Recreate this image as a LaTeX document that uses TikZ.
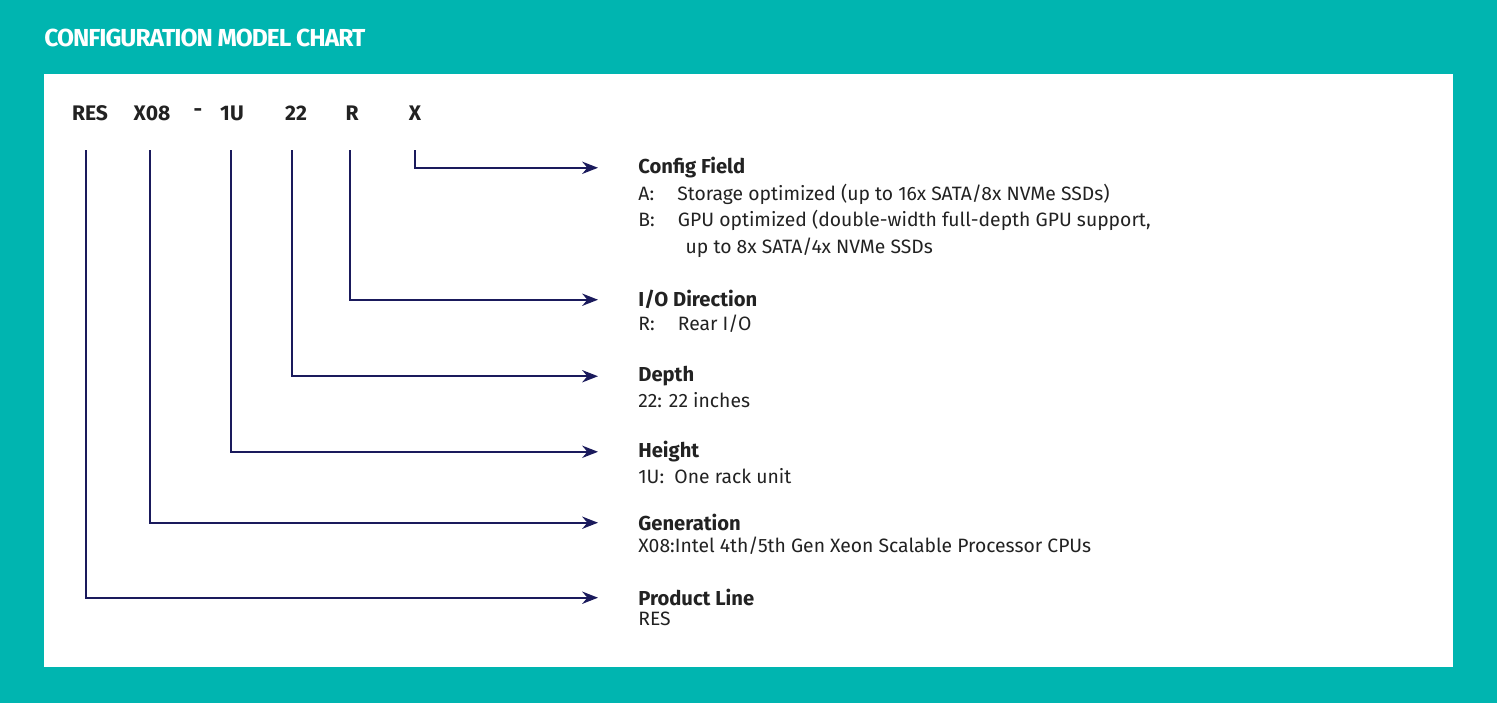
\documentclass[tikz,border=0pt]{standalone}
\usepackage{fontspec}
\setmainfont{Fira Sans}
\usetikzlibrary{arrows.meta,positioning}
\definecolor{teal}{HTML}{00B5B0}
\definecolor{navy}{HTML}{1A1A5C}
\definecolor{ink}{HTML}{222222}

\begin{document}
\begin{tikzpicture}[x=0.02cm,y=-0.02cm,
      codetext/.style={font=\fontsize{12}{14}\selectfont\bfseries,text=ink,inner sep=0pt},
      hdrtext/.style={anchor=north west,font=\fontsize{11.5}{14}\selectfont\bfseries,text=ink,inner sep=0pt},
      bodytext/.style={anchor=north west,font=\fontsize{11}{15}\selectfont,text=ink,inner sep=0pt,align=left},
      myarrow/.style={-{Stealth[length=9pt,width=7pt]},navy,line width=1.1pt}
      ]
    \fill[teal] (0,0) rectangle (1497,703);
    \fill[white] (44,74) rectangle (1453,667);
    \node[anchor=west,inner sep=0pt,text=white,font=\fontsize{14}{16}\selectfont\bfseries\addfontfeature{LetterSpace=-4}] (title) at (44,38) {CONFIGURATION MODEL CHART};

    % model code
    \node[codetext] (res) at (90,113) {RES};
    \node[codetext] (gen) at (152,113) {X08};
    \node[codetext] (dash) at (198,113) {-};
    \node[codetext] (hgt) at (232,113) {1U};
    \node[codetext] (dep) at (296,113) {22};
    \node[codetext] (io) at (352,113) {R};
    \node[codetext] (cfg) at (415,113) {X};

    % field descriptions
    \node[hdrtext] (hcfg) at (638,157) {Config Field};
    \node[bodytext,below=3pt of hcfg.south west,anchor=north west] (bcfg) {%
      A:\hspace{1.2em}Storage optimized (up to 16x SATA/8x NVMe SSDs)\\
      B:\hspace{1.2em}GPU optimized (double-width full-depth GPU support,\\
      \hspace{2.45em}up to 8x SATA/4x NVMe SSDs};
    \node[hdrtext] (hio) at (638,290) {I/O Direction};
    \node[bodytext,below=3pt of hio.south west,anchor=north west] (bio) {R:\hspace{1.2em}Rear I/O};
    \node[hdrtext] (hdep) at (638,366) {Depth};
    \node[bodytext,below=3pt of hdep.south west,anchor=north west] (bdep) {22: 22 inches};
    \node[hdrtext] (hhgt) at (638,441) {Height};
    \node[bodytext,below=3pt of hhgt.south west,anchor=north west] (bhgt) {1U:\ \ One rack unit};
    \node[hdrtext] (hgen) at (638,514) {Generation};
    \node[bodytext,below=3pt of hgen.south west,anchor=north west] (bgen) {X08:Intel 4th/5th Gen Xeon Scalable Processor CPUs};
    \node[hdrtext] (hres) at (638,589) {Product Line};
    \node[bodytext,below=3pt of hres.south west,anchor=north west] (bres) {RES};

    \foreach \c/\h/\x in {res/hres/86, gen/hgen/150, hgt/hhgt/231, dep/hdep/292, io/hio/350, cfg/hcfg/415}
       \draw[myarrow,shorten >=40*0.02cm] (\x,150) |- (\h.west);

    \end{tikzpicture}
\end{document}
